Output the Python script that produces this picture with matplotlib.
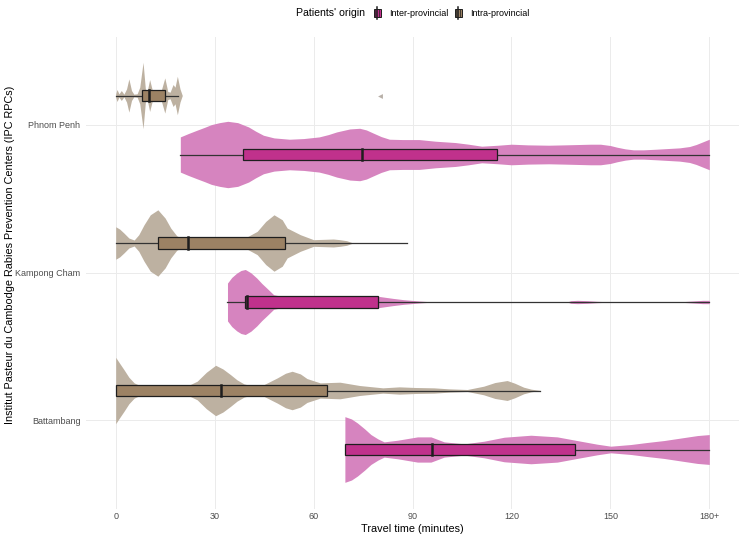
import matplotlib
matplotlib.use("Agg")
import matplotlib.pyplot as plt
from matplotlib.patches import Rectangle
from matplotlib.lines import Line2D
from matplotlib.legend_handler import HandlerBase

plt.rcParams['font.family'] = ['Liberation Sans', 'DejaVu Sans']

# ---------------- data ----------------
centers = ["Battambang", "Kampong Cham", "Phnom Penh"]
groups = ["Inter-provincial", "Intra-provincial"]
x_ticks = [0, 30, 60, 90, 120, 150, 180]
x_tick_labels = ["0", "30", "60", "90", "120", "150", "180+"]

# violin outlines: travel time (min) and relative half width (0-100)
pp_intra_t = [0, 0.4, 1.0, 1.7, 2.5, 3.3, 4.0, 4.8, 5.5, 6.5, 7.3, 8.3, 9.0, 9.5, 10.3, 11.2,
              12.5, 13.8, 14.9, 15.8, 16.5, 17.4, 18.0, 18.7, 19.5, 20.2]
pp_intra_w = [5, 18, 5, 15, 4, 20, 50, 15, 4, 5, 25, 100, 20, 10, 48, 12,
              8, 15, 53, 12, 10, 33, 25, 58, 20, 0]
pp_inter_t = [19.6, 22, 24.6, 27, 29, 31.5, 34, 37, 40.3, 42.5, 44.8, 48, 52.7, 57, 61.7, 64.5,
              67, 71, 74, 76, 78, 80.5, 83, 87, 92, 97, 103, 107, 111, 116, 120, 125, 131.3,
              136, 140, 144, 147, 150, 152, 154.5, 157, 160, 164, 167.5, 171, 174, 176, 178,
              180]
pp_inter_w = [53, 63, 73, 82, 90, 96, 100, 96, 83, 70, 58, 50, 46, 48, 53, 60,
              68, 77, 79, 74, 65, 54, 46, 45, 45, 40, 36, 31, 25, 28, 31, 29, 28,
              29, 30, 31, 31, 27, 22, 17, 14, 14, 16, 18, 20, 24, 30, 38,
              46]
kc_intra_t = [0, 1.2, 2.5, 4, 5.6, 7, 8.6, 10.5, 12.8, 15, 16.7, 18.5, 20, 25, 30, 35, 39,
              42.9, 45.5, 48, 50.5, 52, 56, 60, 63, 66, 68, 70, 72]
kc_intra_w = [49, 42, 30, 15, 9, 25, 55, 85, 100, 75, 45, 22, 14, 10, 9, 10, 14,
              35, 65, 85, 70, 45, 25, 10, 11, 12, 10, 7, 0]
kc_inter_t = [33.9, 35.2, 36.7, 38, 39.3, 41, 42.8, 44.3, 45.8, 47.9, 52, 60, 70, 79.7, 84,
              87.3, 92, 96.5, 136.9, 138, 140, 143, 146, 150, 171, 175, 178, 180]
kc_inter_w = [57, 74, 87, 95, 98, 88, 72, 56, 42, 22, 14, 12, 12, 17, 11,
              7, 3, 0, 0, 4, 5, 4, 2, 0.5, 0.5, 3, 5, 5]
bat_intra_t = [0, 1.2, 2.5, 4, 5.6, 8, 12, 18, 22, 24.7, 27.5, 30.3, 32.5, 34.8, 36.8, 38.9,
               42, 45, 49, 51.5, 53.5, 56, 58, 62, 68, 74, 81, 86, 91, 96.5, 101, 106.6,
               111.6, 115, 118.7, 121, 123.7, 126, 128.8]
bat_intra_w = [100, 82, 63, 40, 23, 12, 8, 9, 15, 28, 55, 76, 65, 48, 32, 20,
               12, 18, 38, 52, 58, 50, 36, 23, 25, 15, 8, 11, 9, 8, 5, 3,
               13, 24, 30, 22, 10, 4, 0]
bat_inter_t = [69.5, 71.5, 73.3, 75.5, 77.4, 79.5, 81.4, 85.5, 91.5, 95.6, 99.6, 105.7,
               111.7, 117.8, 125.9, 133.9, 141, 146, 150.1, 156.2, 161, 166.3, 171, 176.4,
               180]
bat_inter_w = [99, 92, 80, 62, 45, 32, 23, 28, 38, 38, 23, 17,
               25, 37, 43, 38, 25, 16, 10, 15, 21, 27, 34, 42,
               45]

# box stats: whisker low, q1, median, q3, whisker high
pp_intra_box = [0, 8.1, 10.1, 15.1, 18.9]
pp_inter_box = [19.6, 38.5, 74.8, 115.6, 180]
kc_intra_box = [0, 12.7, 21.9, 51.4, 88.4]
kc_inter_box = [33.9, 39.3, 39.8, 79.5, 180]
bat_intra_box = [0, 0, 31.8, 64.2, 128.8]
bat_inter_box = [69.5, 69.5, 96.0, 139.4, 180]
pp_intra_outliers = [80]

# ---------------- style ----------------
violin_col = {"Inter-provincial": "#d684bf", "Intra-provincial": "#bdb1a1"}
box_col = {"Inter-provincial": "#c0318c", "Intra-provincial": "#9c8264"}
edge = "#1e1e1e"
HALF = 0.225
BOXH = 0.075
DODGE = 0.2

fig = plt.figure(figsize=(7.40, 5.36), dpi=100)
ax = fig.add_axes([86 / 740, 1 - 508.5 / 536, (739 - 86) / 740, 472 / 536])

data = {
    ("Phnom Penh", "Intra-provincial"): (pp_intra_t, pp_intra_w, pp_intra_box, pp_intra_outliers),
    ("Phnom Penh", "Inter-provincial"): (pp_inter_t, pp_inter_w, pp_inter_box, []),
    ("Kampong Cham", "Intra-provincial"): (kc_intra_t, kc_intra_w, kc_intra_box, []),
    ("Kampong Cham", "Inter-provincial"): (kc_inter_t, kc_inter_w, kc_inter_box, []),
    ("Battambang", "Intra-provincial"): (bat_intra_t, bat_intra_w, bat_intra_box, []),
    ("Battambang", "Inter-provincial"): (bat_inter_t, bat_inter_w, bat_inter_box, []),
}

for (center, grp), (t, w, box, outl) in data.items():
    y0 = centers.index(center) + 1 + (DODGE if grp == "Intra-provincial" else -DODGE)
    hw = [v / 100 * HALF for v in w]
    ax.fill_between(t, [y0 - h for h in hw], [y0 + h for h in hw],
                    color=violin_col[grp], lw=0, zorder=2)
    lo, q1, med, q3, hi = box
    ax.plot([lo, q1], [y0, y0], color="#333333", lw=0.9, zorder=3)
    ax.plot([q3, hi], [y0, y0], color="#333333", lw=0.9, zorder=3)
    ax.add_patch(Rectangle((q1, y0 - BOXH / 2), q3 - q1, BOXH, facecolor=box_col[grp],
                           edgecolor=edge, lw=0.9, zorder=4))
    ax.plot([med, med], [y0 - BOXH / 2, y0 + BOXH / 2], color=edge, lw=1.8, zorder=5)
    for o in outl:
        ax.plot([o], [y0], marker="<", ms=3.5, color="#b8b0a8", mew=0, zorder=5)

ax.set_xlim(-9, 189)
ax.set_ylim(0.4, 3.6)
ax.set_xticks(x_ticks)
ax.set_xticklabels(x_tick_labels, fontsize=6.5, color="#4d4d4d")
ax.set_yticks([1, 2, 3])
ax.set_yticklabels(centers, fontsize=6.5, color="#4d4d4d")
ax.tick_params(axis="x", length=0, pad=2.5)
ax.tick_params(axis="y", length=0, pad=4)
ax.grid(True, color="#ebebeb", lw=0.7, zorder=0)
ax.set_axisbelow(True)
for s in ax.spines.values():
    s.set_visible(False)

fig.text(412 / 740, 1 - 529.5 / 536, "Travel time (minutes)", fontsize=7.8,
         ha="center", va="center")
fig.text(10 / 740, 1 - 255 / 536,
         "Institut Pasteur du Cambodge Rabies Prevention Centers (IPC RPCs)",
         fontsize=7.8, ha="center", va="center", rotation=90)


class BoxKey(HandlerBase):
    def __init__(self, grp):
        super().__init__()
        self.grp = grp

    def create_artists(self, legend, orig_handle, xdescent, ydescent, width, height,
                       fontsize, trans):
        w = width
        x0 = -xdescent
        y0 = -ydescent
        arts = [Rectangle((x0, y0 + height * 0.05), w, height * 0.9,
                          facecolor=box_col[self.grp], edgecolor=edge, lw=0.7,
                          transform=trans)]
        cx = x0 + w / 2
        arts.append(Line2D([cx, cx], [y0 - 1.5, y0 + height + 1.5], color=edge, lw=1.1,
                           transform=trans))
        for fx in (0.22, 0.78):
            arts.append(Line2D([x0 + w * fx] * 2, [y0 + height * 0.05, y0 + height * 0.95],
                               color=edge, lw=0.5, transform=trans))
        return arts


h1 = Rectangle((0, 0), 1, 1)
h2 = Rectangle((0, 0), 1, 1)
fig.text(296 / 740, 1 - 13 / 536, "Patients' origin", fontsize=7.6, va="center", ha="left")
fig.legend([h1, h2], groups, loc="center left", bbox_to_anchor=(374 / 740, 1 - 13.5 / 536),
           ncol=2, frameon=False, fontsize=6.5, handlelength=0.75, handleheight=1.0,
           columnspacing=0.75, handletextpad=0.9, borderaxespad=0, borderpad=0,
           handler_map={h1: BoxKey("Inter-provincial"), h2: BoxKey("Intra-provincial")})

fig.savefig("out.png", dpi=100)
